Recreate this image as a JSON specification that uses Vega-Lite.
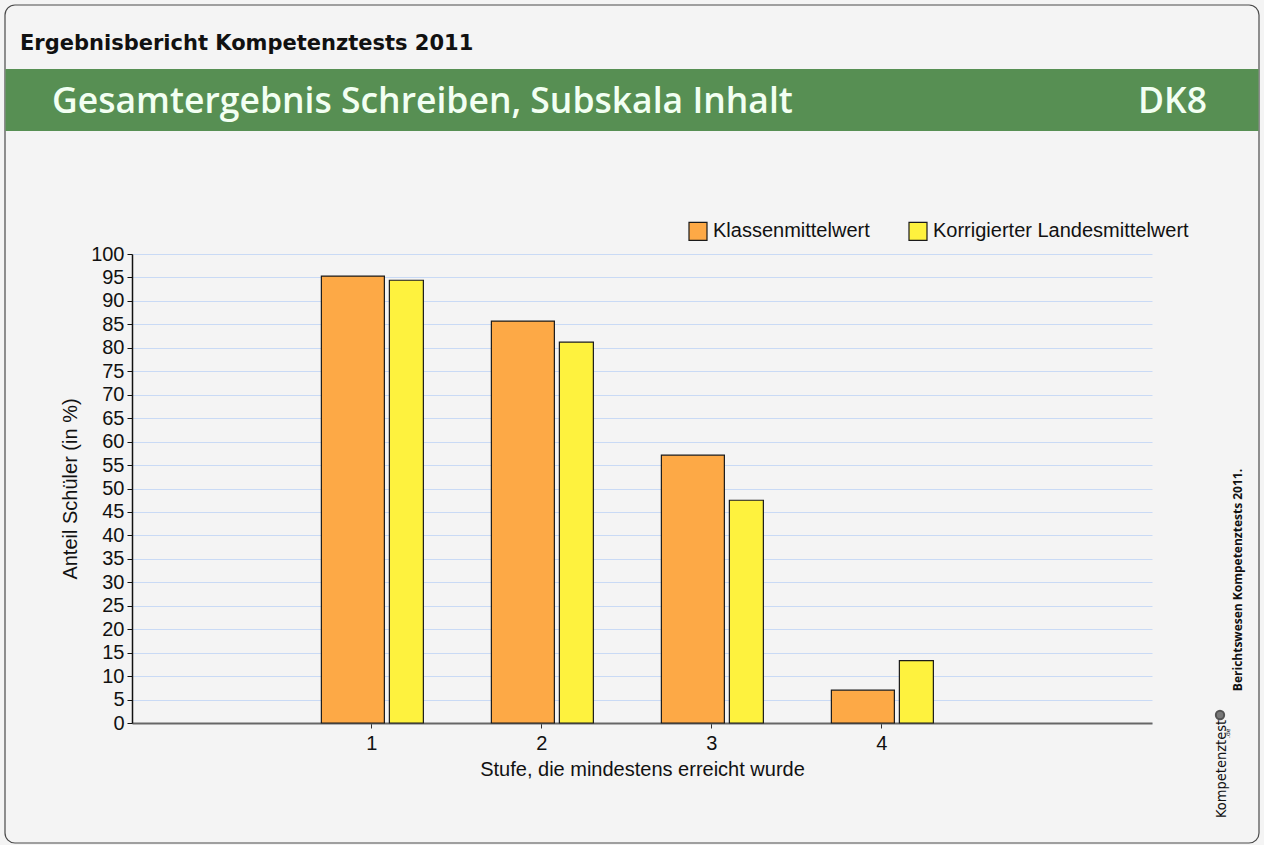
{
  "$schema": "https://vega.github.io/schema/vega-lite/v6.json",
  "width": 1020,
  "height": 469,
  "autosize": {"type": "none"},
  "padding": {"left": 132, "top": 254, "right": 112, "bottom": 122},
  "background": "#f4f4f4",
  "config": {
    "view": {"stroke": null},
    "font": "Liberation Sans"
  },
  "datasets": {
    "bars": [
      {"stufe": "1", "reihe": "Klassenmittelwert", "anteil": 95.3},
      {"stufe": "1", "reihe": "Korrigierter Landesmittelwert", "anteil": 94.4},
      {"stufe": "2", "reihe": "Klassenmittelwert", "anteil": 85.7},
      {"stufe": "2", "reihe": "Korrigierter Landesmittelwert", "anteil": 81.2},
      {"stufe": "3", "reihe": "Klassenmittelwert", "anteil": 57.1},
      {"stufe": "3", "reihe": "Korrigierter Landesmittelwert", "anteil": 47.5},
      {"stufe": "4", "reihe": "Klassenmittelwert", "anteil": 7.0},
      {"stufe": "4", "reihe": "Korrigierter Landesmittelwert", "anteil": 13.3}
    ],
    "one": [{}]
  },
  "layer": [
    {
      "data": {"name": "one"},
      "mark": {"type": "rect", "fill": null, "fillOpacity": 0, "stroke": "#4a4a4a", "strokeWidth": 1.2, "cornerRadius": 10},
      "encoding": {
        "x": {"value": -127}, "x2": {"value": 1127},
        "y": {"value": -249}, "y2": {"value": 589}
      }
    },
    {
      "data": {"name": "one"},
      "mark": {"type": "rect", "fill": "#578f53"},
      "encoding": {
        "x": {"value": -126.5}, "x2": {"value": 1126.5},
        "y": {"value": -185}, "y2": {"value": -123}
      }
    },
    {
      "data": {"name": "one"},
      "mark": {"type": "text", "text": "Ergebnisbericht Kompetenztests 2011", "font": "DejaVu Sans", "fontWeight": "bold", "fontSize": 21, "fill": "#111111", "align": "left", "baseline": "alphabetic"},
      "encoding": {"x": {"value": -112}, "y": {"value": -204}}
    },
    {
      "data": {"name": "one"},
      "mark": {"type": "text", "text": "Gesamtergebnis Schreiben, Subskala Inhalt", "font": "Open Sans", "fontWeight": 600, "fontSize": 35.5, "fill": "#f2fff2", "align": "left", "baseline": "alphabetic"},
      "encoding": {"x": {"value": -80}, "y": {"value": -141}}
    },
    {
      "data": {"name": "one"},
      "mark": {"type": "text", "text": "DK8", "font": "Open Sans", "fontWeight": 600, "fontSize": 35.5, "fill": "#f2fff2", "align": "right", "baseline": "alphabetic"},
      "encoding": {"x": {"value": 1075}, "y": {"value": -141}}
    },
    {
      "data": {"name": "one"},
      "mark": {"type": "text", "text": "Berichtswesen Kompetenztests 2011.", "font": "Open Sans", "fontWeight": "bold", "fontSize": 12, "fill": "#111111", "angle": 270, "align": "center", "baseline": "middle"},
      "encoding": {"x": {"value": 1106}, "y": {"value": 326}}
    },
    {
      "data": {"name": "one"},
      "mark": {"type": "text", "text": "Kompetenztest", "font": "DejaVu Sans Condensed, Liberation Sans Narrow, sans-serif", "fontSize": 14.5, "fill": "#111111", "angle": 270, "align": "left", "baseline": "middle"},
      "encoding": {"x": {"value": 1090}, "y": {"value": 564}}
    },
    {
      "data": {"name": "one"},
      "mark": {"type": "text", "text": ".de", "font": "DejaVu Sans", "fontSize": 6, "fill": "#111111", "angle": 270, "align": "left", "baseline": "middle"},
      "encoding": {"x": {"value": 1096}, "y": {"value": 484}}
    },
    {
      "data": {"name": "one"},
      "mark": {"type": "point", "shape": "circle", "size": 70, "filled": true, "fill": "#444444", "stroke": "#111111"},
      "encoding": {"x": {"value": 1088}, "y": {"value": 461}}
    },
    {
      "data": {"name": "bars"},
      "transform": [{"filter": "datum.reihe === 'Klassenmittelwert'"}],
      "mark": {"type": "bar", "width": 63, "xOffset": -19, "stroke": "#1a1a1a", "strokeWidth": 1.2},
      "encoding": {
        "x": {"field": "stufe", "type": "ordinal",
              "scale": {"domain": ["1", "2", "3", "4"], "paddingInner": 0, "paddingOuter": 1, "align": 0.4555},
              "axis": {"title": "Stufe, die mindestens erreicht wurde", "labelAngle": 0, "labelFontSize": 20, "labelColor": "#111111", "labelPadding": 5, "titleFontSize": 20, "titleFontWeight": "normal", "titleColor": "#111111", "titlePadding": 6, "tickSize": 5, "tickColor": "#333333", "domainColor": "#666666", "domainWidth": 2, "grid": false}},
        "y": {"field": "anteil", "type": "quantitative",
              "scale": {"domain": [0, 100], "nice": false},
              "axis": {"title": "Anteil Schüler (in %)", "values": [0,5,10,15,20,25,30,35,40,45,50,55,60,65,70,75,80,85,90,95,100], "tickCount": 21, "labelOverlap": false, "labelFlush": false, "labelFontSize": 20, "labelColor": "#111111", "labelPadding": 3, "titleFontSize": 20, "titleFontWeight": "normal", "titleColor": "#111111", "titlePadding": 10, "tickSize": 5, "tickColor": "#111111", "domainColor": "#111111", "domainWidth": 1.5, "grid": true, "gridColor": "#c9daf5", "gridWidth": 1.2}},
        "color": {"field": "reihe", "type": "nominal",
                  "scale": {"domain": ["Klassenmittelwert", "Korrigierter Landesmittelwert"], "range": ["#fda946", "#fef23e"]},
                  "legend": {"title": null, "orient": "none", "legendX": 556, "legendY": -33, "direction": "horizontal", "symbolType": "square", "symbolSize": 324, "symbolStrokeColor": "#1a1a1a", "symbolStrokeWidth": 1.2, "symbolOpacity": 1, "labelFontSize": 20, "labelColor": "#111111", "labelOffset": 5, "columnPadding": 36, "labelLimit": 400}}
      }
    },
    {
      "data": {"name": "bars"},
      "transform": [{"filter": "datum.reihe === 'Korrigierter Landesmittelwert'"}],
      "mark": {"type": "bar", "width": 34, "xOffset": 34.5, "stroke": "#1a1a1a", "strokeWidth": 1.2},
      "encoding": {
        "x": {"field": "stufe", "type": "ordinal"},
        "y": {"field": "anteil", "type": "quantitative",
              "axis": {"title": "Anteil Schüler (in %)", "values": [0,5,10,15,20,25,30,35,40,45,50,55,60,65,70,75,80,85,90,95,100], "tickCount": 21, "labelOverlap": false, "labelFlush": false, "labelFontSize": 20, "labelColor": "#111111", "labelPadding": 3, "titleFontSize": 20, "titleFontWeight": "normal", "titleColor": "#111111", "titlePadding": 10, "tickSize": 5, "tickColor": "#111111", "domainColor": "#111111", "domainWidth": 1.5, "grid": true, "gridColor": "#c9daf5", "gridWidth": 1.2}},
        "color": {"field": "reihe", "type": "nominal"}
      }
    }
  ]
}
